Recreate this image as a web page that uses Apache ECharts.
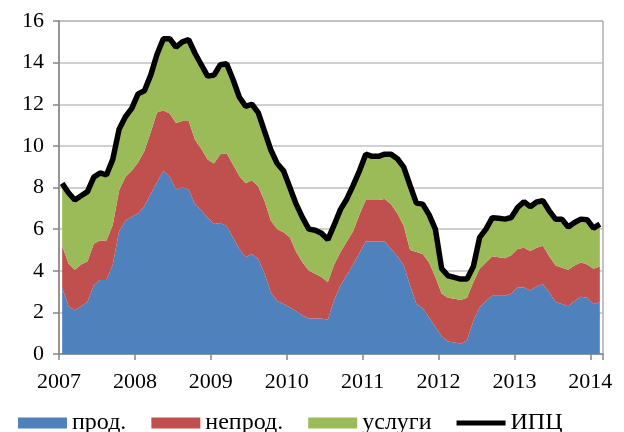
<!DOCTYPE html>
<html>
<head>
<meta charset="utf-8">
<script src="https://cdn.jsdelivr.net/npm/echarts@6/dist/echarts.min.js"></script>
<style>
  html, body { margin: 0; padding: 0; background: #fff; }
  #chart { width: 624px; height: 432px; }
</style>
</head>
<body>
<div id="chart"></div>
<script>
// monthly data, Jan 2007 .. Feb 2014
const years = ['2007', '2008', '2009', '2010', '2011', '2012', '2013', '2014'];

const prod = [
  3.2, 2.3, 2.1, 2.3, 2.5, 3.3, 3.55, 3.55, 4.3, 5.9, 6.4, 6.6,
  6.75, 7.1, 7.7, 8.25, 8.8, 8.5, 7.9, 8.0, 7.9, 7.2, 6.9, 6.55,
  6.25, 6.3, 6.15, 5.6, 5.05, 4.65, 4.8, 4.55, 3.85, 2.95, 2.55, 2.4,
  2.25, 2.05, 1.85, 1.7, 1.7, 1.7, 1.65, 2.6, 3.3, 3.8, 4.3, 4.85,
  5.4, 5.4, 5.4, 5.4, 5.05, 4.7, 4.25, 3.3, 2.4, 2.2, 1.75, 1.3,
  0.85, 0.6, 0.55, 0.5, 0.65, 1.6, 2.25, 2.55, 2.8, 2.8, 2.8, 2.9,
  3.2, 3.2, 3.05, 3.25, 3.35, 2.95, 2.5, 2.4, 2.3, 2.55, 2.75, 2.7,
  2.4, 2.5
];

const neprod = [
  2.0, 2.05, 1.95, 2.0, 1.95, 2.0, 1.9, 1.9, 1.9, 1.95, 2.1, 2.2,
  2.45, 2.65, 2.95, 3.35, 2.9, 3.05, 3.2, 3.2, 3.3, 3.1, 2.95, 2.8,
  2.9, 3.3, 3.5, 3.5, 3.5, 3.55, 3.55, 3.5, 3.5, 3.45, 3.45, 3.45,
  3.35, 2.85, 2.55, 2.3, 2.15, 2.0, 1.8, 1.7, 1.6, 1.6, 1.6, 1.85,
  2.0, 2.0, 2.0, 2.05, 2.15, 2.05, 1.9, 1.7, 2.5, 2.6, 2.65, 2.4,
  2.05, 2.1, 2.1, 2.1, 2.05, 1.85, 1.85, 1.85, 1.9, 1.85, 1.8, 1.85,
  1.85, 1.9, 1.9, 1.85, 1.85, 1.75, 1.75, 1.75, 1.75, 1.7, 1.65, 1.6,
  1.7, 1.7
];

const uslugi = [
  3.0, 3.4, 3.3, 3.3, 3.3, 3.2, 3.25, 3.15, 3.1, 2.95, 2.9, 3.0,
  3.3, 2.9, 2.75, 2.8, 3.45, 3.65, 3.65, 3.8, 3.9, 4.15, 4.05, 4.0,
  4.3, 4.3, 4.25, 4.1, 3.8, 3.65, 3.65, 3.5, 3.35, 3.4, 3.15, 2.95,
  2.4, 2.3, 2.15, 2.0, 2.1, 2.1, 2.05, 1.9, 2.05, 2.05, 2.2, 2.1,
  2.2, 2.1, 2.1, 2.15, 2.4, 2.65, 2.85, 3.1, 2.35, 2.4, 2.3, 2.3,
  1.2, 1.05, 1.0, 0.95, 0.9, 0.75, 1.5, 1.6, 1.85, 1.9, 1.85, 1.85,
  2.0, 2.2, 2.1, 2.2, 2.15, 2.15, 2.25, 2.3, 2.0, 2.1, 2.1, 2.15,
  1.95, 2.1
];

const ipc = [
  8.2, 7.75, 7.4, 7.6, 7.8, 8.5, 8.7, 8.6, 9.35, 10.8, 11.4, 11.8,
  12.5, 12.65, 13.4, 14.4, 15.15, 15.15, 14.75, 15.0, 15.1, 14.45, 13.9, 13.35,
  13.4, 13.9, 13.95, 13.2, 12.35, 11.9, 12.0, 11.6, 10.7, 9.8, 9.15, 8.8,
  8.0, 7.2, 6.55, 6.0, 5.95, 5.8, 5.5, 6.2, 6.95, 7.45, 8.1, 8.8,
  9.6, 9.5, 9.5, 9.6, 9.6, 9.38, 8.98, 8.1, 7.25, 7.2, 6.7, 6.0,
  4.1, 3.76, 3.68, 3.6, 3.6, 4.2, 5.6, 6.0, 6.55, 6.52, 6.48, 6.56,
  7.04, 7.32, 7.08, 7.3, 7.36, 6.88, 6.48, 6.48, 6.1, 6.32, 6.48, 6.45,
  6.05, 6.24
];

// month categories
const months = [];
years.forEach(y => {
  for (let m = 1; m <= 12; m++) months.push(y + '-' + (m < 10 ? '0' + m : m));
});
months.length = ipc.length;

const font = "'Liberation Serif', 'DejaVu Serif', serif";
const axisGray = '#868686';

const chart = echarts.init(document.getElementById('chart'), null, { renderer: 'canvas' });

const areaSeries = (name, data, color) => ({
  name: name,
  type: 'line',
  stack: 'total',
  data: data,
  symbol: 'none',
  lineStyle: { width: 0 },
  itemStyle: { color: color },
  areaStyle: { color: color, opacity: 1 },
  z: 2
});

const box = { left: 59, right: 21, top: 21, bottom: 78, outerBoundsMode: 'none' };

chart.setOption({
  animation: false,
  backgroundColor: '#fff',
  grid: [
    Object.assign({ show: true, borderColor: axisGray, borderWidth: 1 }, box),
    Object.assign({ show: false }, box)
  ],
  legend: {
    left: 13,
    top: 406,
    itemWidth: 49,
    itemHeight: 11,
    itemGap: 25,
    textStyle: { fontFamily: font, fontSize: 24, color: '#000' },
    data: [
      { name: 'прод.', icon: 'rect' },
      { name: 'непрод.', icon: 'rect' },
      { name: 'услуги', icon: 'rect' },
      { name: 'ИПЦ', icon: 'path://M0,0L50,0L50,5L0,5Z' }
    ]
  },
  xAxis: [
    {
      type: 'category',
      gridIndex: 0,
      data: months,
      boundaryGap: true,
      axisLine: { show: true, lineStyle: { color: axisGray, width: 1.5 } },
      axisTick: { show: true, interval: 11, length: 6, lineStyle: { color: axisGray, width: 1.5 } },
      axisLabel: { show: false },
      splitLine: { show: false }
    },
    {
      // year labels sit on the year boundaries
      type: 'value',
      gridIndex: 1,
      min: 0,
      max: months.length,
      interval: 12,
      axisLine: { show: false },
      axisTick: { show: false },
      splitLine: { show: false },
      axisLabel: {
        margin: 17,
        fontFamily: font,
        fontSize: 22,
        color: '#000',
        showMaxLabel: false,
        formatter: v => years[v / 12] || ''
      }
    }
  ],
  yAxis: [
    {
      type: 'value',
      gridIndex: 0,
      min: 0,
      max: 16,
      interval: 2,
      axisLine: { show: true, lineStyle: { color: axisGray, width: 1.5 } },
      axisTick: { show: true, length: 6, lineStyle: { color: axisGray, width: 1.5 } },
      splitLine: { show: true, lineStyle: { color: '#c0c0c0', width: 1.5 } },
      axisLabel: { margin: 15, fontFamily: font, fontSize: 22, color: '#000' }
    },
    { type: 'value', gridIndex: 1, min: 0, max: 1, show: false }
  ],
  series: [
    areaSeries('прод.', prod, '#4f81bd'),
    areaSeries('непрод.', neprod, '#c0504d'),
    areaSeries('услуги', uslugi, '#9bbb59'),
    {
      name: 'ИПЦ',
      type: 'line',
      data: ipc,
      symbol: 'none',
      lineStyle: { color: '#000', width: 5.5 },
      itemStyle: { color: '#000' },
      z: 3
    }
  ]
});
</script>
</body>
</html>
